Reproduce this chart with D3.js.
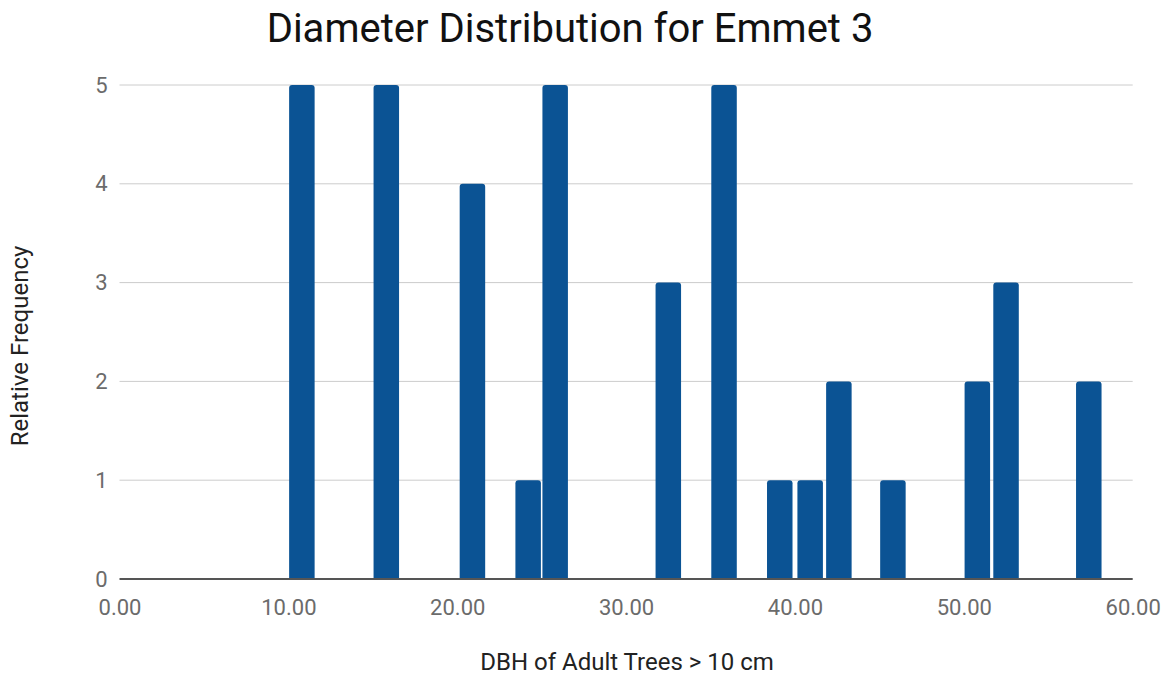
<!DOCTYPE html>
<html>
<head>
<meta charset="utf-8">
<script src="https://cdn.jsdelivr.net/npm/d3@7/dist/d3.min.js"></script>
<style>
  html, body { margin: 0; padding: 0; background: #fff; }
  svg { display: block; font-family: Roboto, "Noto Sans", sans-serif; }
</style>
</head>
<body>
<svg id="chart" width="1173" height="679"></svg>
<script>
// ---- data ----
const title = "Diameter Distribution for Emmet 3";
const xTitle = "DBH of Adult Trees > 10 cm";
const yTitle = "Relative Frequency";
const dbh = [10.8, 15.8, 20.9, 24.2, 25.8, 32.5, 35.8, 39.1, 40.9, 42.6, 45.8, 50.8, 52.5, 57.4];
const freq = [5, 5, 4, 1, 5, 3, 5, 1, 1, 2, 1, 2, 3, 2];
const xTicks = [0, 10, 20, 30, 40, 50, 60];
const yTicks = [0, 1, 2, 3, 4, 5];

// ---- layout ----
const plot = { left: 119.5, right: 1132.7, top: 85, bottom: 579 };
const barWidthUnits = 1.51;
const barColor = "#0b5394";

const svg = d3.select("#chart");
const x = d3.scaleLinear().domain([0, 60]).range([plot.left, plot.right]);
const y = d3.scaleLinear().domain([0, 5]).range([plot.bottom, plot.top]);

// gridlines
svg.append("g")
  .selectAll("line")
  .data(yTicks.filter(d => d > 0))
  .join("line")
  .attr("x1", plot.left).attr("x2", plot.right)
  .attr("y1", d => y(d)).attr("y2", d => y(d))
  .attr("stroke", "#cccccc").attr("stroke-width", 1);

// y tick labels
const yAxis = d3.axisLeft(y).tickValues(yTicks).tickSize(0).tickPadding(12).tickFormat(d3.format("d"));
const gy = svg.append("g").attr("transform", `translate(${plot.left},0)`).call(yAxis);
gy.select(".domain").remove();
gy.selectAll("text").attr("fill", "#6b6b6b").attr("font-size", 22).attr("font-family", "Roboto");

// x tick labels
const xAxis = d3.axisBottom(x).tickValues(xTicks).tickSize(0).tickFormat(d3.format(".2f"));
const gx = svg.append("g").attr("transform", `translate(0,${plot.bottom})`).call(xAxis);
gx.select(".domain").remove();
gx.selectAll("text").attr("fill", "#6b6b6b").attr("font-size", 22).attr("font-family", "Roboto")
  .attr("y", 36).attr("dy", 0);

// bars with rounded top corners
const data = dbh.map((d, i) => ({ x: d, v: freq[i] }));
const bw = x(barWidthUnits) - x(0);
const r = 3;
svg.append("g")
  .selectAll("path")
  .data(data)
  .join("path")
  .attr("fill", barColor)
  .attr("d", d => {
    const x0 = x(d.x) - bw / 2, x1 = x(d.x) + bw / 2;
    const yt = y(d.v), yb = y(0);
    return `M${x0},${yb} L${x0},${yt + r} Q${x0},${yt} ${x0 + r},${yt} L${x1 - r},${yt} Q${x1},${yt} ${x1},${yt + r} L${x1},${yb} Z`;
  });

// baseline
svg.append("line")
  .attr("x1", plot.left).attr("x2", plot.right)
  .attr("y1", y(0)).attr("y2", y(0))
  .attr("stroke", "#555").attr("stroke-width", 2);

// title
svg.append("text")
  .attr("x", 570).attr("y", 42)
  .attr("text-anchor", "middle")
  .attr("font-size", 40).attr("fill", "#111")
  .text(title);

// axis titles
svg.append("text")
  .attr("x", 627).attr("y", 670)
  .attr("text-anchor", "middle")
  .attr("font-size", 24).attr("fill", "#222")
  .text(xTitle);

svg.append("text")
  .attr("transform", "translate(28,346) rotate(-90)")
  .attr("text-anchor", "middle")
  .attr("font-size", 24).attr("fill", "#222")
  .text(yTitle);
</script>
</body>
</html>
